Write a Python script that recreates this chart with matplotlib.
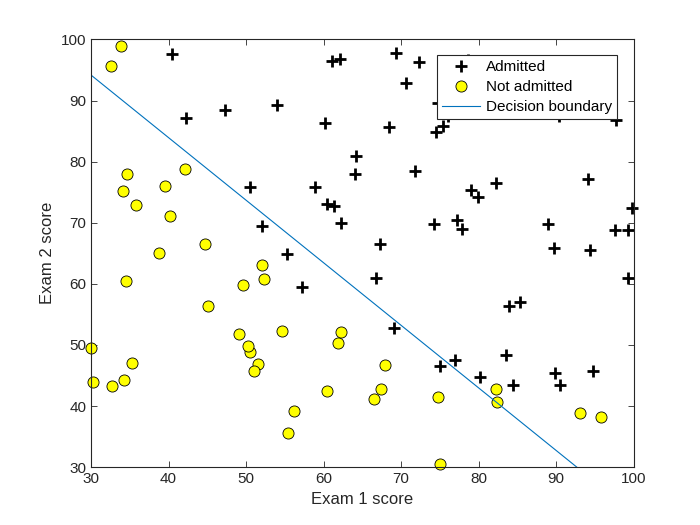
import matplotlib
matplotlib.use("Agg")
import matplotlib.pyplot as plt

plt.rcParams['font.family'] = ['Liberation Sans', 'DejaVu Sans']

# ex2data1: exam scores and admission result
exam1 = [34.62, 30.29, 35.85, 60.18, 79.03, 45.08, 61.11, 75.02, 76.10, 84.43,
         95.86, 75.01, 82.31, 69.36, 39.54, 53.97, 69.07, 67.95, 70.66, 76.98,
         67.37, 89.68, 50.53, 34.21, 77.92, 62.27, 80.19, 93.11, 61.83, 38.79,
         61.38, 85.40, 52.11, 52.05, 40.24, 54.64, 33.92, 64.18, 74.79, 34.18,
         83.90, 51.55, 94.44, 82.37, 51.05, 62.22, 77.19, 97.77, 62.07, 91.56,
         79.94, 99.27, 90.55, 34.52, 50.29, 49.59, 97.65, 32.58, 74.25, 71.80,
         75.40, 35.29, 56.25, 30.06, 44.67, 66.56, 40.46, 49.07, 80.28, 66.75,
         32.72, 64.04, 72.35, 60.46, 58.84, 99.83, 47.26, 50.46, 60.46, 82.23,
         88.91, 94.83, 67.32, 57.24, 80.37, 68.47, 42.08, 75.48, 78.64, 52.35,
         94.09, 90.45, 55.48, 74.49, 89.85, 83.49, 42.26, 99.32, 55.34, 74.78]
exam2 = [78.02, 43.89, 72.90, 86.31, 75.34, 56.32, 96.51, 46.55, 87.42, 43.53,
         38.23, 30.60, 76.48, 97.72, 76.04, 89.21, 52.74, 46.68, 92.93, 47.58,
         42.84, 65.80, 48.86, 44.21, 68.97, 69.95, 44.82, 38.80, 50.26, 65.00,
         72.81, 57.05, 63.13, 69.43, 71.17, 52.21, 98.87, 80.91, 41.57, 75.24,
         56.31, 46.86, 65.57, 40.62, 45.82, 52.06, 70.46, 86.73, 96.77, 88.70,
         74.16, 61.00, 43.39, 60.40, 49.80, 59.81, 68.86, 95.60, 69.82, 78.45,
         85.76, 47.02, 39.26, 49.59, 66.45, 41.09, 97.54, 51.88, 92.12, 60.99,
         43.31, 78.03, 96.23, 73.09, 75.86, 72.37, 88.48, 75.81, 42.51, 42.72,
         69.80, 45.69, 66.59, 59.51, 90.96, 85.59, 78.84, 90.42, 96.65, 60.77,
         77.16, 87.51, 35.57, 84.85, 45.36, 48.38, 87.10, 68.78, 64.93, 89.53]
admitted = [0, 0, 0, 1, 1, 0, 1, 1, 1, 1,
            0, 0, 1, 1, 0, 1, 1, 0, 1, 1,
            0, 1, 0, 0, 1, 1, 1, 0, 0, 0,
            1, 1, 0, 1, 0, 0, 0, 1, 0, 0,
            1, 0, 1, 0, 0, 0, 1, 1, 1, 1,
            1, 1, 1, 0, 0, 0, 1, 0, 1, 1,
            1, 0, 0, 0, 0, 0, 1, 0, 1, 1,
            0, 1, 1, 1, 1, 1, 1, 1, 0, 0,
            1, 1, 1, 1, 1, 1, 0, 1, 1, 0,
            1, 1, 0, 1, 1, 1, 1, 1, 1, 1]

# decision boundary end points
boundary_x = [28.06, 101.83]
boundary_y = [96.15, 20.66]

pos_x = [x for x, a in zip(exam1, admitted) if a == 1]
pos_y = [y for y, a in zip(exam2, admitted) if a == 1]
neg_x = [x for x, a in zip(exam1, admitted) if a == 0]
neg_y = [y for y, a in zip(exam2, admitted) if a == 0]

fig = plt.figure(figsize=(7, 5.25), dpi=100)
ax = fig.add_axes([0.13, 0.11, 0.775, 0.815])

ax.plot(pos_x, pos_y, 'k+', markersize=8, markeredgewidth=2, label='Admitted',
        clip_on=False)
ax.plot(neg_x, neg_y, 'o', markerfacecolor='yellow', markeredgecolor='k',
        markersize=8, markeredgewidth=0.6, label='Not admitted', clip_on=False)
ax.plot(boundary_x, boundary_y, color='#0072BD', linewidth=0.8,
        label='Decision boundary')

ax.set_xlim(30, 100)
ax.set_ylim(30, 100)
ax.set_xticks(range(30, 101, 10))
ax.set_yticks(range(30, 101, 10))
ax.tick_params(direction='in', length=4, width=0.6, labelsize=11,
               top=True, right=True, colors='#262626')
for s in ax.spines.values():
    s.set_linewidth(0.8)
    s.set_color('#262626')
ax.set_xlabel('Exam 1 score', fontsize=12, color='#262626')
ax.set_ylabel('Exam 2 score', fontsize=12, color='#262626')

leg = ax.legend(loc='upper right', bbox_to_anchor=(0.969, 0.9625), fontsize=11,
                fancybox=False, framealpha=1, edgecolor='#262626',
                borderaxespad=0, borderpad=0.3, handlelength=2.5,
                handletextpad=0.4, labelspacing=0.4)
leg.get_frame().set_linewidth(0.8)

fig.savefig('out.png', dpi=100)
